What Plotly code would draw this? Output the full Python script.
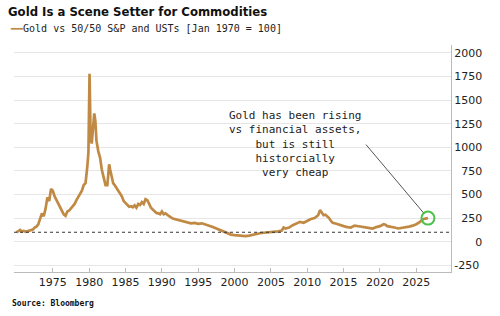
import plotly.graph_objects as go

# ---- data ----
years = [
    1970.0, 1970.25, 1970.5, 1970.75, 1971.0, 1971.25, 1971.5, 1971.75,
    1972.0, 1972.25, 1972.5, 1972.75, 1973.0, 1973.25, 1973.5, 1973.75,
    1974.0, 1974.25, 1974.5, 1974.75, 1975.0, 1975.25, 1975.5, 1975.75,
    1976.0, 1976.25, 1976.5, 1976.75, 1977.0, 1977.25, 1977.5, 1977.75,
    1978.0, 1978.25, 1978.5, 1978.75, 1979.0, 1979.25, 1979.5, 1979.75,
    1979.9, 1980.05, 1980.2, 1980.35, 1980.5, 1980.7, 1980.85, 1981.0,
    1981.25, 1981.5, 1981.75, 1982.0, 1982.25, 1982.5, 1982.75, 1982.9,
    1983.1, 1983.3, 1983.5, 1983.75, 1984.0, 1984.25, 1984.5, 1984.75,
    1985.0, 1985.25, 1985.5, 1985.75, 1986.0, 1986.25, 1986.5, 1986.75,
    1987.0, 1987.25, 1987.5, 1987.75, 1988.0, 1988.25, 1988.5, 1988.75,
    1989.0, 1989.25, 1989.5, 1989.75, 1990.0, 1990.25, 1990.5, 1990.75,
    1991.0, 1991.5, 1992.0, 1992.5, 1993.0, 1993.5, 1994.0, 1994.5,
    1995.0, 1995.5, 1996.0, 1996.5, 1997.0, 1997.5, 1998.0, 1998.5,
    1999.0, 1999.5, 2000.0, 2000.5, 2001.0, 2001.5, 2002.0, 2002.5,
    2003.0, 2003.5, 2004.0, 2004.5, 2005.0, 2005.5, 2006.0, 2006.5,
    2006.75, 2007.0, 2007.5, 2008.0, 2008.5, 2009.0, 2009.5, 2010.0,
    2010.5, 2011.0, 2011.5, 2011.75, 2012.0, 2012.25, 2012.5, 2012.75,
    2013.0, 2013.25, 2013.5, 2014.0, 2014.5, 2015.0, 2015.5, 2016.0,
    2016.5, 2017.0, 2017.5, 2018.0, 2018.5, 2019.0, 2019.5, 2020.0,
    2020.5, 2020.75, 2021.0, 2021.5, 2022.0, 2022.5, 2023.0, 2023.5,
    2024.0, 2024.5, 2025.0, 2025.5, 2026.0, 2026.6,
]
gold_vs_6040 = [
    100, 112, 125, 108, 115, 105, 110, 118,
    115, 128, 150, 160, 185, 240, 300, 270,
    350, 470, 430, 560, 540, 480, 440, 400,
    360, 320, 290, 275, 320, 330, 350, 370,
    400, 440, 470, 500, 540, 600, 620, 800,
    950, 1780, 1100, 1040, 1200, 1360, 1280, 1070,
    960, 890, 760, 680, 600, 600, 820, 760,
    700, 620, 600, 575, 540, 510, 480, 430,
    410, 390, 370, 375, 365, 385, 360, 400,
    390, 420, 400, 450, 440, 400, 360, 340,
    320, 305, 300, 290, 320, 290, 300, 280,
    270, 245, 235, 225, 210, 205, 195, 200,
    190, 195, 185, 170, 155, 140, 120, 105,
    90, 75, 70, 65, 62, 60, 65, 75,
    85, 90, 95, 98, 100, 102, 110, 118,
    150, 140, 150, 175, 195, 210, 200, 220,
    240, 250, 280, 335, 300, 280, 285, 270,
    250, 220, 200, 190, 175, 165, 155, 150,
    170, 160, 158, 152, 145, 140, 155, 165,
    185, 180, 165, 160, 150, 140, 145, 150,
    160, 170, 185, 210, 240, 250,
]
x_ticks = [1975, 1980, 1985, 1990, 1995, 2000, 2005, 2010, 2015, 2020, 2025]
y_ticks = [-250, 0, 250, 500, 750, 1000, 1250, 1500, 1750, 2000]
FS = "\u2007"
y_ticktext = [FS * (4 - len(str(v))) + str(v) if v >= 0 else str(v) for v in y_ticks]

title_text = "Gold Is a Scene Setter for Commodities"
series_name = "Gold vs 50/50 S&P and USTs [Jan 1970 = 100]"
source_text = "Source: Bloomberg"
note_text = ("Gold has been rising<br>vs financial assets,<br>but is still"
             "<br>historcially<br>very cheap")

GOLD = "#C08A45"
GREEN = "#4CC24C"
MONO = "DejaVu Sans Mono"

fig = go.Figure()
fig.add_hline(y=100, line=dict(color="#333333", width=1, dash="dot"))
fig.add_trace(go.Scatter(
    x=years, y=gold_vs_6040, mode="lines", name=series_name,
    line=dict(color=GOLD, width=2.7), showlegend=False,
))
fig.add_trace(go.Scatter(
    x=[years[-1]], y=[gold_vs_6040[-1]], mode="markers", showlegend=False,
    marker=dict(symbol="circle-open", size=13, color=GREEN,
                line=dict(color=GREEN, width=2)),
))

fig.update_layout(
    width=500, height=316,
    margin=dict(l=14, r=49, t=45, b=44),
    paper_bgcolor="white", plot_bgcolor="white",
    font=dict(family="DejaVu Sans", size=11, color="#222222"),
    title=dict(text="<b>" + title_text + "</b>", xref="container", yref="container",
               x=8 / 500, xanchor="left", y=1 - 11 / 316, yanchor="middle",
               font=dict(family="DejaVu Sans Condensed, DejaVu Sans", size=13,
                         color="#111111")),
    xaxis=dict(range=[1969.66, 2029.77], tickvals=x_ticks, showgrid=False,
               showline=True, linecolor="#BBBBBB", linewidth=1,
               ticks="inside", ticklen=4, tickcolor="#BBBBBB", zeroline=False,
               tickfont=dict(size=11, color="#222222")),
    yaxis=dict(range=[-321, 2084], side="right", tickvals=y_ticks, ticktext=y_ticktext,
               showgrid=True, gridcolor="#E6E6E6", gridwidth=1,
               showline=True, linecolor="#BBBBBB", linewidth=1,
               ticks="", zeroline=False, tickfont=dict(size=11, color="#222222")),
)

fig.add_annotation(
    xref="paper", yref="paper", x=(8 - 14) / 437, y=(272 - 29) / 227,
    xanchor="left", yanchor="middle", showarrow=False, align="left",
    text="<span style='color:%s'>━━</span>" % GOLD + series_name.replace("&", "&amp;"),
    font=dict(family=MONO, size=10, color="#222222"),
)
fig.add_annotation(
    xref="paper", yref="paper", x=(10 - 14) / 437, y=(272 - 303) / 227,
    xanchor="left", yanchor="middle", showarrow=False,
    text="<b>" + source_text + "</b>",
    font=dict(family=MONO, size=8, color="#111111"),
)
fig.add_annotation(
    xref="x", yref="y", x=2008.3, y=1040, showarrow=False, align="center",
    text=note_text, font=dict(family=MONO, size=11, color="#222222"),
)
fig.add_annotation(
    xref="x", yref="y", axref="x", ayref="y",
    x=years[-1], y=gold_vs_6040[-1], ax=2017.9, ay=1045, text="",
    showarrow=True, arrowhead=0, arrowwidth=1, arrowcolor="#555555", standoff=7,
)

fig.write_html("out.html")
